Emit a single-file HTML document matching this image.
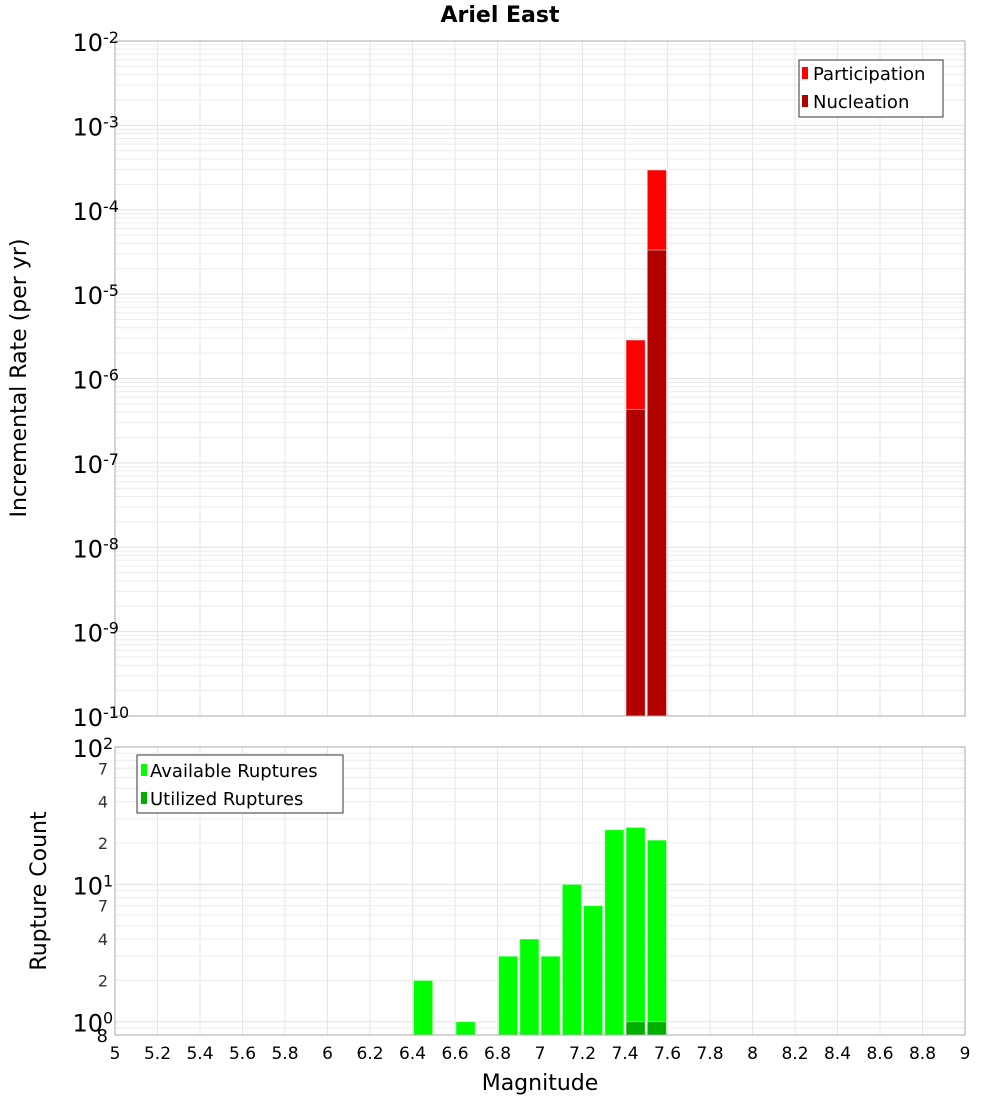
<!DOCTYPE html>
<html><head><meta charset="utf-8"><style>
body{margin:0;background:#fff;}
svg{display:block;font-family:"DejaVu Sans","Liberation Sans",sans-serif;}
</style></head><body>
<svg id="chart" width="1000" height="1100" xmlns="http://www.w3.org/2000/svg">
<text x="500" y="22" text-anchor="middle" font-size="22" font-weight="bold">Ariel East</text>
<g id="topPanel"></g><g id="botPanel"></g>
<text x="540" y="1090" text-anchor="middle" font-size="22">Magnitude</text>
<text transform="translate(26,378) rotate(-90)" text-anchor="middle" font-size="22">Incremental Rate (per yr)</text>
<text transform="translate(46,891) rotate(-90)" text-anchor="middle" font-size="22">Rupture Count</text>
</svg>
<script>
const rateMags=[7.45,7.55];
const participation=[2.86e-6,2.96e-4];
const nucleation=[4.3e-7,3.33e-5];
const countMags=[6.45,6.65,6.85,6.95,7.05,7.15,7.25,7.35,7.45,7.55];
const available=[2,1,3,4,3,10,7,25,26,21];
const utilizedMags=[7.45,7.55];
const utilized=[1,1];
const xTicks=["5","5.2","5.4","5.6","5.8","6","6.2","6.4","6.6","6.8","7","7.2","7.4","7.6","7.8","8","8.2","8.4","8.6","8.8","9"];
const topExps=[-2,-3,-4,-5,-6,-7,-8,-9,-10];
const botExps=[2,1,0];
const botMinor=[7,4,2];

const NS="http://www.w3.org/2000/svg";
const X0=115,X1=965;
const xs=m=>X0+(m-5)/4*(X1-X0);
const T0=41,T1=716;
const yt=v=>T0+(-2-Math.log10(v))/8*(T1-T0);
const B0=747,B1=1035;
const yb=v=>B0+(2-Math.log10(v))/(2-Math.log10(0.8))*(B1-B0);
function mk(p,tag,a){const e=document.createElementNS(NS,tag);for(const k in a)e.setAttribute(k,a[k]);p.appendChild(e);return e;}
const topG=document.getElementById('topPanel'),botG=document.getElementById('botPanel');

function grid(g,y0,y1,yf,dmin,dmax){
  for(let i=0;i<xTicks.length;i++){const x=xs(+xTicks[i]);
    const l=mk(g,'line',{x1:x,x2:x,y1:y0,y2:y1,stroke:'#e6e6e6','stroke-width':1});
    
    }
  for(let d=dmin;d<dmax;d++)for(let k=1;k<10;k++){const v=k*Math.pow(10,d);const y=yf(v);if(y<y0-0.5||y>y1+0.5)continue;
    const l=mk(g,'line',{x1:X0,x2:X1,y1:y,y2:y,stroke:k==1?'#e0e0e0':'#ececec','stroke-width':1});
    
    }
}
function bar(g,m,v,yf,ybase,fill,name){const x=xs(m-0.05)+1,w=xs(m+0.05)-xs(m-0.05)-2;const y=yf(v);
  const r=mk(g,'rect',{x:x,y:y,width:w,height:ybase-y,fill:fill,stroke:'rgba(255,255,255,0.5)','stroke-width':1});
  
  }
function sup(g,y,exp,big,name){
  const t=mk(g,'text',{x:103,y:y+10,'text-anchor':'end','font-size':big});t.textContent='10';
  
  
  const s=mk(g,'text',{x:103,y:y+2,'font-size':16});s.textContent=String(exp);
  
  
}
grid(topG,T0,T1,yt,-10,-2);
participation.forEach((v,i)=>bar(topG,rateMags[i],v,yt,T1,'#ff0000','participation-bar'));
nucleation.forEach((v,i)=>bar(topG,rateMags[i],v,yt,T1,'#b00000','nucleation-bar'));
let fr=mk(topG,'rect',{x:X0,y:T0,width:X1-X0,height:T1-T0,fill:'none',stroke:'#aaa'});


topExps.forEach(e=>sup(topG,yt(Math.pow(10,e)),e,24,'top-y-tick-label'));
const lg=mk(topG,'g',{});


mk(lg,'rect',{x:799,y:60,width:144,height:57,fill:'#fff',stroke:'#333'});
mk(lg,'rect',{x:802,y:67,width:6,height:12,fill:'#ff0000'});
mk(lg,'rect',{x:802,y:95,width:6,height:12,fill:'#b00000'});
let t=mk(lg,'text',{x:813,y:80,'font-size':18});t.textContent='Participation';


t=mk(lg,'text',{x:813,y:108,'font-size':18});t.textContent='Nucleation';


grid(botG,B0,B1,yb,-1,2);
available.forEach((v,i)=>bar(botG,countMags[i],v,yb,B1,'#00ff00','available-bar'));
utilized.forEach((v,i)=>bar(botG,utilizedMags[i],v,yb,B1,'#00b000','utilized-bar'));
fr=mk(botG,'rect',{x:X0,y:B0,width:X1-X0,height:B1-B0,fill:'none',stroke:'#aaa'});


botExps.forEach(e=>sup(botG,yb(Math.pow(10,e)),e,24,'bottom-y-tick-label'));
[1,10].forEach(d=>botMinor.forEach(k=>{const y=yb(k*d);const m=mk(botG,'text',{x:108,y:y+6,'text-anchor':'end','font-size':16,fill:'#333'});m.textContent=k;
  
  }));
t=mk(botG,'text',{x:108,y:1042,'text-anchor':'end','font-size':18});t.textContent='8';


const lb=mk(botG,'g',{});


mk(lb,'rect',{x:137,y:755,width:206,height:58,fill:'#fff',stroke:'#333'});
mk(lb,'rect',{x:141,y:764,width:6,height:12,fill:'#00ff00'});
mk(lb,'rect',{x:141,y:792,width:6,height:12,fill:'#00b000'});
t=mk(lb,'text',{x:150,y:777,'font-size':18});t.textContent='Available Ruptures';


t=mk(lb,'text',{x:150,y:805,'font-size':18});t.textContent='Utilized Ruptures';


xTicks.forEach(s=>{const m=mk(botG,'text',{x:xs(+s),y:1059,'text-anchor':'middle','font-size':17});m.textContent=s;
  
  });
</script>
</body></html>
